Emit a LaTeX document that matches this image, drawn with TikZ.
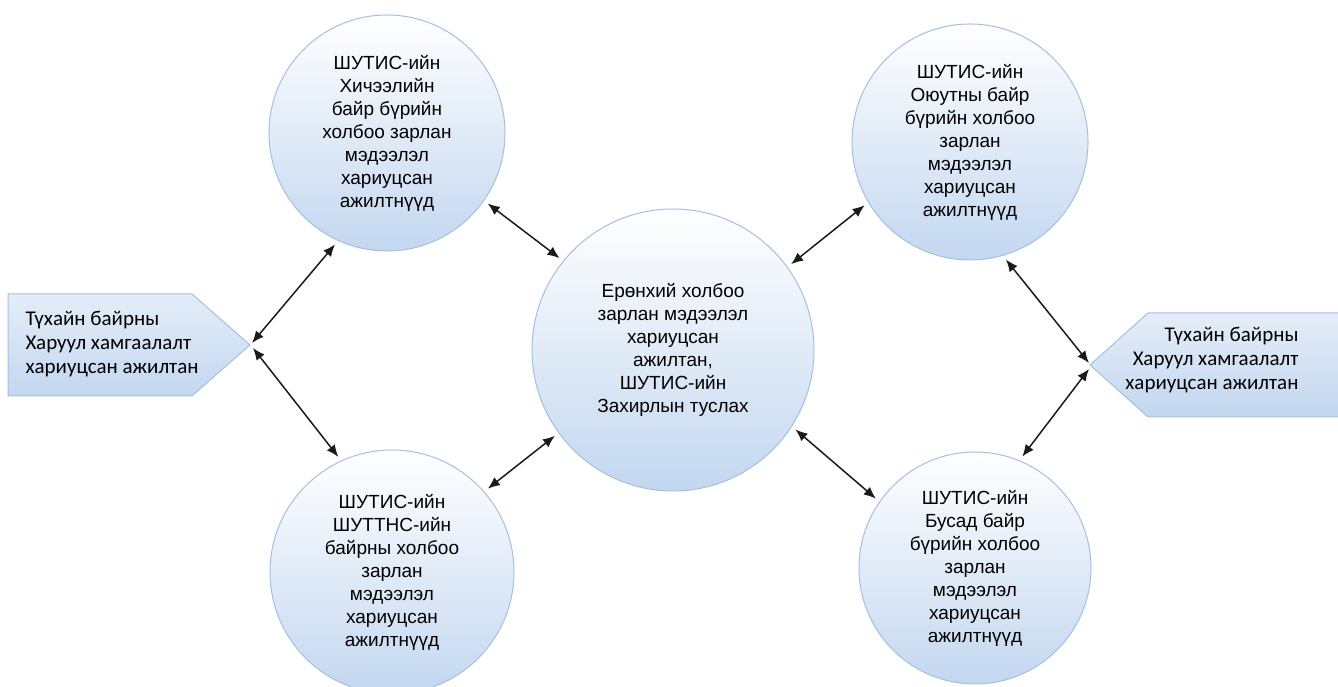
\documentclass[tikz,border=0pt]{standalone}
\usepackage{fontspec}
\setmainfont{Liberation Sans}
\newfontfamily\calloutfont{Carlito}
\usetikzlibrary{arrows.meta}
\definecolor{edgeblue}{HTML}{A3C0E3}
\definecolor{fillblue}{HTML}{C3D7F0}
\definecolor{arrowgray}{HTML}{1A1A1A}

\begin{document}
\begin{tikzpicture}[x=1pt,y=1pt,
  bubble/.style={circle,draw=edgeblue,line width=1pt,top color=white,bottom color=fillblue,
    inner sep=0pt,outer sep=5pt,align=center,font=\fontsize{19}{23}\selectfont},
  callbox/.style={draw=edgeblue,line width=1pt,top color=fillblue!45,bottom color=fillblue},
  calltext/.style={font=\calloutfont\fontsize{21}{24.2}\selectfont},
  link/.style={<->,>={Latex[length=12pt,width=10pt]},line width=1.5pt,arrowgray}]
\useasboundingbox (0,0) rectangle (1338,687);

\node[bubble,minimum size=236] (tl) at (387,554) {ШУТИС-ийн\\Хичээлийн\\байр бүрийн\\холбоо зарлан\\мэдээлэл\\хариуцсан\\ажилтнүүд};
\node[bubble,minimum size=236] (tr) at (970,545) {ШУТИС-ийн\\Оюутны байр\\бүрийн холбоо\\зарлан\\мэдээлэл\\хариуцсан\\ажилтнүүд};
\node[bubble,minimum size=282] (ctr) at (673,337) {Ерөнхий холбоо\\зарлан мэдээлэл\\хариуцсан\\ажилтан,\\ШУТИС-ийн\\Захирлын туслах};
\node[bubble,minimum size=244] (bl) at (392,115) {ШУТИС-ийн\\ШУТТНС-ийн\\байрны холбоо\\зарлан\\мэдээлэл\\хариуцсан\\ажилтнүүд};
\node[bubble,minimum size=232] (br) at (975,119) {ШУТИС-ийн\\Бусад байр\\бүрийн холбоо\\зарлан\\мэдээлэл\\хариуцсан\\ажилтнүүд};

\draw[callbox] (8,393) -- (192,393) -- (250,342) -- (192,291) -- (8,291) -- cycle;
\node[calltext,align=left,anchor=west] (lguard) at (22,343) {Түхайн байрны\\Харуул хамгаалалт\\хариуцсан ажилтан};
\coordinate (lptipa) at (252,344);
\coordinate (lptipb) at (253,339);

\draw[callbox] (1345,374) -- (1148,374) -- (1090,322) -- (1148,270) -- (1345,270) -- cycle;
\node[calltext,align=right,anchor=east] (rguard) at (1302,327) {Түхайн байрны\\Харуул хамгаалалт\\хариуцсан ажилтан};
\coordinate (rptipa) at (1089,324);
\coordinate (rptipb) at (1089,318);

\draw[link] (tl.-35) -- (ctr.141);
\draw[link] (tl.-115) -- (lptipa);
\draw[link] (lptipb) -- (bl.115);
\draw[link] (bl.41) -- (ctr.216);
\draw[link] (ctr.36) -- (tr.211);
\draw[link] (tr.-73) -- (rptipa);
\draw[link] (rptipb) -- (br.67);
\draw[link] (ctr.-33) -- (br.145);
\end{tikzpicture}
\end{document}
